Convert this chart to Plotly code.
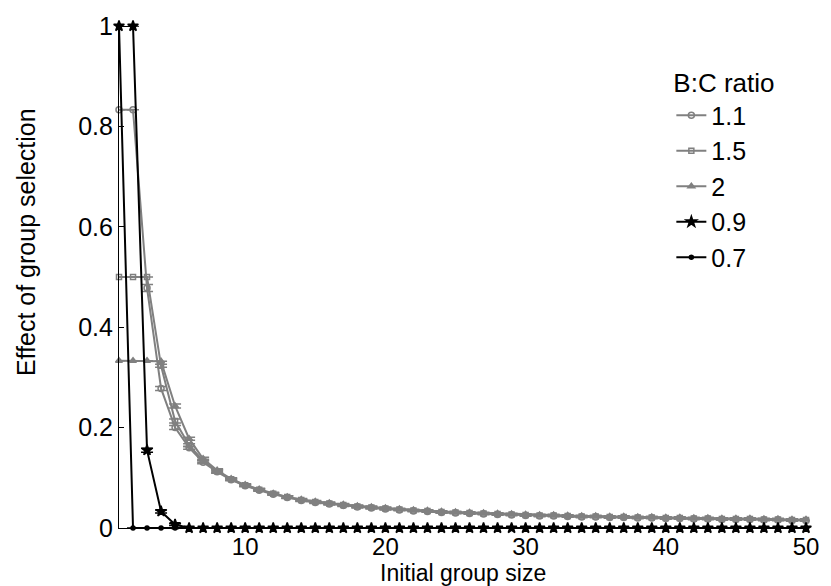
import plotly.graph_objects as go

# ---------------- data ----------------
group_size = list(range(1, 51))

ratio_labels = ["1.1", "1.5", "2", "0.9", "0.7"]

effect_11 = [0.833, 0.833, 0.478, 0.278, 0.200, 0.160, 0.131, 0.112, 0.096, 0.084,
             0.075, 0.067, 0.061, 0.055, 0.051, 0.048, 0.045, 0.042, 0.040, 0.038,
             0.036, 0.034, 0.033, 0.031, 0.030, 0.029, 0.028, 0.027, 0.026, 0.025,
             0.024, 0.024, 0.023, 0.022, 0.022, 0.021, 0.021, 0.020, 0.020, 0.019,
             0.019, 0.018, 0.018, 0.017, 0.017, 0.017, 0.016, 0.016, 0.015, 0.015]
effect_15 = [0.500, 0.500, 0.500, 0.323, 0.213, 0.165, 0.134, 0.113, 0.097, 0.085,
             0.076, 0.068, 0.062, 0.056, 0.052, 0.049, 0.046, 0.043, 0.041, 0.039,
             0.037, 0.035, 0.034, 0.032, 0.031, 0.030, 0.029, 0.028, 0.027, 0.026,
             0.025, 0.025, 0.024, 0.023, 0.023, 0.022, 0.022, 0.021, 0.021, 0.020,
             0.020, 0.019, 0.019, 0.018, 0.018, 0.018, 0.017, 0.017, 0.016, 0.016]
effect_2 = [0.333, 0.333, 0.333, 0.332, 0.243, 0.178, 0.138, 0.115, 0.098, 0.086,
            0.077, 0.069, 0.062, 0.057, 0.053, 0.050, 0.047, 0.044, 0.042, 0.040,
            0.038, 0.036, 0.035, 0.033, 0.032, 0.031, 0.030, 0.029, 0.028, 0.027,
            0.026, 0.026, 0.025, 0.024, 0.024, 0.023, 0.023, 0.022, 0.022, 0.021,
            0.021, 0.020, 0.020, 0.019, 0.019, 0.019, 0.018, 0.018, 0.017, 0.017]
effect_09 = [1.0, 1.0, 0.155, 0.033, 0.007] + [0.0] * 45
effect_07 = [1.0] + [0.0] * 49

err_11 = [0.0, 0.0, 0.007, 0.004, 0.004, 0.003, 0.003, 0.003, 0.002, 0.002] + [0.002] * 10 + [0.0015] * 30
err_15 = [0.0, 0.0, 0.0, 0.003, 0.004, 0.003, 0.003, 0.003, 0.002, 0.002] + [0.002] * 10 + [0.0015] * 30
err_2 = [0.0, 0.0, 0.0, 0.0, 0.004, 0.003, 0.003, 0.003, 0.002, 0.002] + [0.002] * 10 + [0.0015] * 30
err_09 = [0.0, 0.0, 0.004, 0.003, 0.002] + [0.0] * 45
err_07 = [0.0] * 50

series_values = [effect_11, effect_15, effect_2, effect_09, effect_07]
series_errors = [err_11, err_15, err_2, err_09, err_07]

y_tick_vals = [0, 0.2, 0.4, 0.6, 0.8, 1]
y_tick_text = ["0", "0.2", "0.4", "0.6", "0.8", "1"]
x_tick_vals = [10, 20, 30, 40, 50]

# ---------------- styles ----------------
GRAY = "#808080"
styles = [
    dict(color=GRAY, symbol="circle-open", size=6),
    dict(color=GRAY, symbol="square-open", size=5),
    dict(color=GRAY, symbol="triangle-up", size=6),
    dict(color="black", symbol="star", size=8),
    dict(color="black", symbol="circle", size=4),
]

FONT = "Liberation Sans, Arial, sans-serif"

fig = go.Figure()
for label, vals, errs, st in zip(ratio_labels, series_values, series_errors, styles):
    fig.add_trace(go.Scatter(
        x=group_size, y=vals, name=label, mode="lines+markers",
        line=dict(color=st["color"], width=2),
        marker=dict(color=st["color"], symbol=st["symbol"], size=st["size"],
                    line=dict(color=st["color"], width=1.5)),
        error_y=dict(type="data", array=errs, visible=True, color=st["color"],
                     thickness=1.5, width=6),
        cliponaxis=False, legendgroup=label,
    ))

fig.update_layout(
    width=831, height=586,
    margin=dict(l=119, r=16, t=23, b=58),
    paper_bgcolor="white", plot_bgcolor="white",
    font=dict(family=FONT, size=25, color="black"),
    showlegend=True,
    legend=dict(
        x=0.804, y=0.935, xanchor="left", yanchor="top",
        bgcolor="rgba(0,0,0,0)", font=dict(size=25),
        title=dict(text="B:C ratio", font=dict(size=26)),
        tracegroupgap=0, itemwidth=30,
    ),
    xaxis=dict(
        range=[1, 50], tickvals=x_tick_vals, showgrid=False, zeroline=False,
        showline=True, linecolor="black", linewidth=1.2,
        ticks="inside", ticklen=5, tickcolor="black",
        tickfont=dict(size=24), ticklabelstandoff=-3,
    ),
    yaxis=dict(
        range=[0, 1], tickvals=y_tick_vals, ticktext=y_tick_text,
        showgrid=False, zeroline=False,
        showline=True, linecolor="black", linewidth=1.2,
        ticks="inside", ticklen=5, tickcolor="black",
        tickfont=dict(size=25),
    ),
    annotations=[
        dict(text="Initial group size", xref="paper", yref="paper",
             x=0.5, y=-0.09, xanchor="center", yanchor="middle",
             showarrow=False, font=dict(size=23)),
        dict(text="Effect of group selection", xref="paper", yref="paper",
             x=-0.135, y=0.57, xanchor="center", yanchor="middle",
             textangle=-90, showarrow=False, font=dict(size=25)),
    ],
)

fig.write_html(
    "out.html",
    config={"displayModeBar": False},
    post_script="document.body.style.margin='0';document.body.style.overflow='hidden';",
)
